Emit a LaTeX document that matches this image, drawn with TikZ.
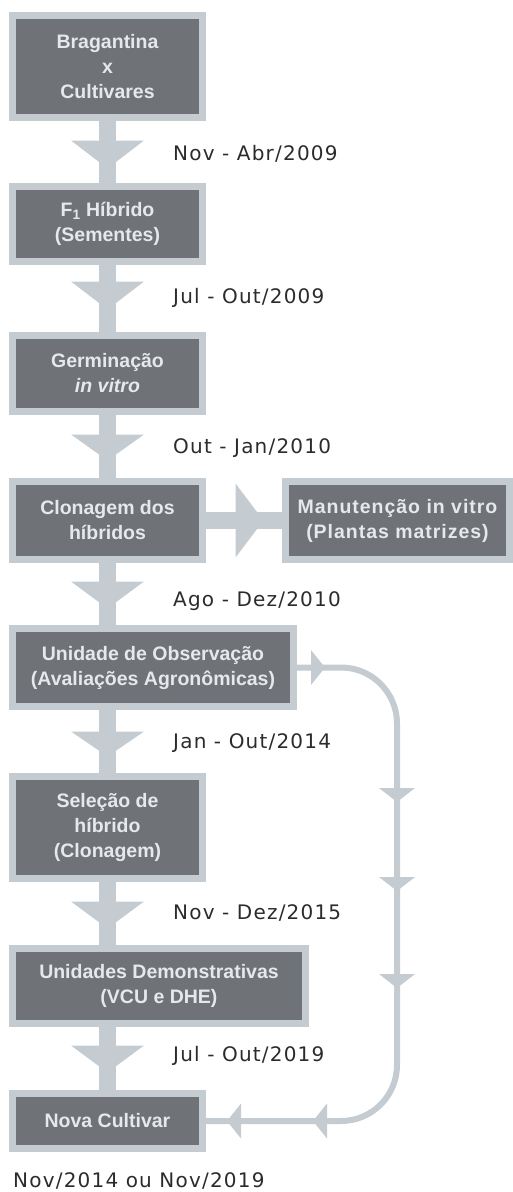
\documentclass[tikz,border=0pt]{standalone}
\usepackage{fontspec}
\setmainfont{Liberation Sans}
\newfontfamily\datefont[LetterSpace=6]{DejaVu Sans}
\newfontfamily\widefont[LetterSpace=5]{Liberation Sans}
\usetikzlibrary{calc}

\definecolor{boxgray}{HTML}{6F7276}
\definecolor{rimgray}{HTML}{C4CBD1}
\definecolor{boxtext}{HTML}{E6E9EC}
\definecolor{datetext}{HTML}{2B2B2B}

\begin{document}
\begin{tikzpicture}[x=1pt, y=-1pt,
	box/.style={draw=rimgray, line width=7pt, fill=boxgray, text=boxtext, align=center,
		inner sep=0pt, font=\fontsize{19.5}{25}\selectfont\bfseries},
	date/.style={right, inner sep=0pt, text=datetext, font=\fontsize{20}{24}\datefont},
	stem/.style={draw=rimgray, line width=17pt},
	head/.style={fill=rimgray},
	back/.style={draw=rimgray, line width=6pt, rounded corners=56pt}]
	\useasboundingbox (0,0) rectangle (512,1192);
	%\draw[help lines, step=50] (0,0) grid (512,1192);

	% main column
	\node [box, minimum width=190pt, minimum height=102pt] (cross) at (107.5, 66.5) {Bragantina\\x\\Cultivares};
	\node [box, minimum width=190pt, minimum height=75pt] (hybrid) at (107.5, 224) {F\textsubscript{1} Híbrido\\(Sementes)};
	\node [box, minimum width=190pt, minimum height=76pt] (germ) at (107.5, 373.5) {Germinação\\\itshape in vitro};
	\node [box, minimum width=190pt, minimum height=78pt] (clone) at (107.5, 520.5) {Clonagem dos\\híbridos};
	\node [box, minimum width=224pt, minimum height=78pt, font=\fontsize{19.5}{25}\widefont\bfseries] (keep) at (397.5, 520.5) {Manutenção in vitro\\(Plantas matrizes)};
	\node [box, minimum width=281pt, minimum height=78pt] (obs) at (153, 667.5) {Unidade de Observação\\(Avaliações Agronômicas)};
	\node [box, minimum width=190pt, minimum height=102pt] (pick) at (107.5, 827.5) {Seleção de\\híbrido\\(Clonagem)};
	\node [box, minimum width=293pt, minimum height=75pt] (demo) at (159, 986) {Unidades Demonstrativas\\(VCU e DHE)};
	\node [box, minimum width=190pt, minimum height=55pt] (new) at (107.5, 1121) {Nova Cultivar};

	% flow arrows
	\draw [stem] (cross.south) -- (hybrid.north);
	\fill [head] ($(cross.south)+(-36.5,19.5)$) -- ++(73,0) -- ($(cross.south)+(0,47.5)$) -- cycle;
	\draw [stem] (hybrid.south) -- (germ.north);
	\fill [head] ($(hybrid.south)+(-36.5,16.5)$) -- ++(73,0) -- ($(hybrid.south)+(0,44.5)$) -- cycle;
	\draw [stem] (germ.south) -- (clone.north);
	\fill [head] ($(germ.south)+(-36.5,19.5)$) -- ++(73,0) -- ($(germ.south)+(0,45.5)$) -- cycle;
	\draw [stem] (clone.south) -- (clone.south |- obs.north);
	\fill [head] ($(clone.south)+(-36.5,18.5)$) -- ++(73,0) -- ($(clone.south)+(0,45.5)$) -- cycle;
	\draw [stem] (pick.north |- obs.south) -- (pick.north);
	\fill [head] ($(pick.north |- obs.south)+(-36.5,21.5)$) -- ++(73,0) -- ($(pick.north |- obs.south)+(0,46.5)$) -- cycle;
	\draw [stem] (pick.south) -- (pick.south |- demo.north);
	\fill [head] ($(pick.south)+(-36.5,19.5)$) -- ++(73,0) -- ($(pick.south)+(0,46.5)$) -- cycle;
	\draw [stem] (new.north |- demo.south) -- (new.north);
	\fill [head] ($(new.north |- demo.south)+(-36.5,18.5)$) -- ++(73,0) -- ($(new.north |- demo.south)+(0,45.5)$) -- cycle;

	\draw [stem] (clone.east) -- (keep.west);
	\fill [head] ($(clone.east)+(29.5,-37)$) -- ++(0,74) -- ($(clone.east)+(57.5,0)$) -- cycle;

	% return line
	\coordinate (turn) at (397, 900);
	\draw [back] (obs.east) -| (turn) |- (new.east);
	\fill [head] (311, 650) -- (325, 667.5) -- (311, 685) -- cycle;
	\fill [head] (379, 788) -- (415, 788) -- (397, 802) -- cycle;
	\fill [head] (379, 877) -- (415, 877) -- (397, 891) -- cycle;
	\fill [head] (379, 974) -- (415, 974) -- (397, 988) -- cycle;
	\fill [head] (327, 1103.5) -- (327, 1138.5) -- (313, 1121) -- cycle;
	\fill [head] (241, 1103.5) -- (241, 1138.5) -- (227, 1121) -- cycle;

	% dates
	\node [date] (d1) at (173, 154) {Nov - Abr/2009};
	\node [date] (d2) at (173, 298) {Jul - Out/2009};
	\node [date] (d3) at (173, 448) {Out - Jan/2010};
	\node [date] (d4) at (173, 601) {Ago - Dez/2010};
	\node [date] (d5) at (173, 743) {Jan - Out/2014};
	\node [date] (d6) at (173, 913) {Nov - Dez/2015};
	\node [date] (d7) at (173, 1056) {Jul - Out/2019};
	\node [date] (d8) at (13, 1181) {Nov/2014 ou Nov/2019};
\end{tikzpicture}
\end{document}
